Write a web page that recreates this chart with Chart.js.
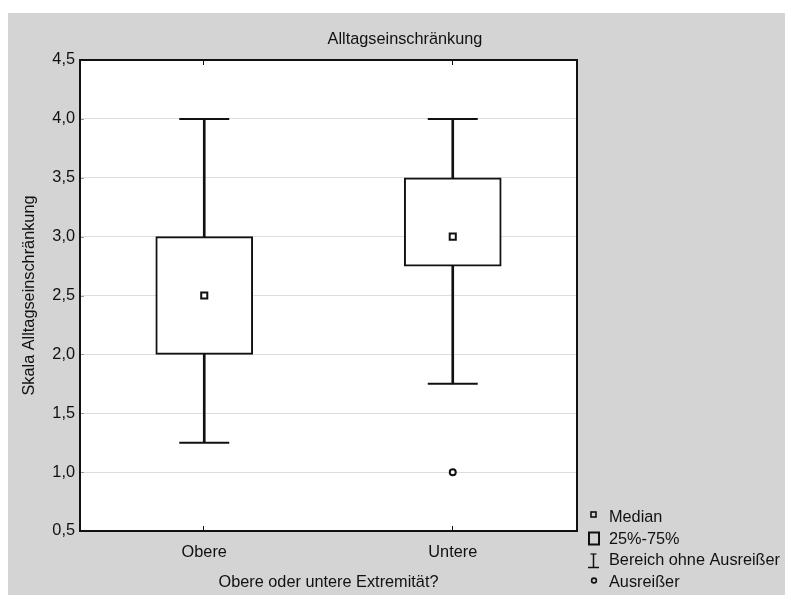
<!DOCTYPE html>
<html>
<head>
<meta charset="utf-8">
<script src="https://cdn.jsdelivr.net/npm/chart.js@4.4.0/dist/chart.umd.min.js"></script>
<style>
  html, body { margin: 0; padding: 0; background: #ffffff; }
  #wrap { width: 785px; height: 595px; }
</style>
</head>
<body>
<div id="wrap"><canvas id="chart" width="785" height="595"></canvas></div>
<script>
// Box plot summary per limb group
const categories   = ['Obere', 'Untere'];
const whiskerLow   = [1.25, 1.75];
const quartile1    = [2.0, 2.75];
const medians      = [2.5, 3.0];
const quartile3    = [3.0, 3.5];
const whiskerHigh  = [4.0, 4.0];
const outlierGroup = ['Untere'];
const outlierValue = [1.0];
const yTickValues  = [0.5, 1.0, 1.5, 2.0, 2.5, 3.0, 3.5, 4.0, 4.5];

const chartTitle  = 'Alltagseinschränkung';
const xAxisTitle  = 'Obere oder untere Extremität?';
const yAxisTitle  = 'Skala Alltagseinschränkung';
const legendTexts = ['Median', '25%-75%', 'Bereich ohne Ausreißer', 'Ausreißer'];

const FONT = '"Liberation Sans", Arial, sans-serif';
const FS = 16.3;
const INK = '#111111';

const capPoints = [];
categories.forEach((c, i) => {
  capPoints.push({ x: c, y: whiskerHigh[i] });
  capPoints.push({ x: c, y: whiskerLow[i] });
});

// Background, plot frame, title and legend
const decor = {
  id: 'decor',
  beforeDraw(chart) {
    const { ctx, chartArea: a } = chart;
    ctx.save();
    ctx.fillStyle = '#d4d4d4';
    ctx.fillRect(8, 13, chart.width - 8, chart.height - 13);
    ctx.fillStyle = '#ffffff';
    ctx.fillRect(a.left, a.top, a.right - a.left, a.bottom - a.top);
    ctx.restore();
  },
  afterDatasetsDraw(chart) {
    const { ctx, chartArea: a, scales } = chart;
    ctx.save();
    // short marks along the value axis
    ctx.strokeStyle = '#9a9a9a';
    ctx.lineWidth = 1;
    yTickValues.forEach(v => {
      const y = Math.round(scales.y.getPixelForValue(v)) + 0.5;
      ctx.beginPath(); ctx.moveTo(a.left, y); ctx.lineTo(a.left + 4, y); ctx.stroke();
    });
    // inward category marks at top and bottom
    ctx.strokeStyle = INK;
    categories.forEach((c, i) => {
      const x = Math.round(scales.x.getPixelForValue(i)) - 0.5;
      ctx.beginPath(); ctx.moveTo(x, a.top); ctx.lineTo(x, a.top + 5); ctx.stroke();
      ctx.beginPath(); ctx.moveTo(x, a.bottom); ctx.lineTo(x, a.bottom - 5); ctx.stroke();
    });
    // frame
    ctx.lineWidth = 2;
    ctx.strokeStyle = INK;
    ctx.strokeRect(a.left, a.top, a.right - a.left, a.bottom - a.top);
    ctx.restore();
  },
  afterDraw(chart) {
    const { ctx } = chart;
    ctx.save();
    ctx.fillStyle = INK;
    ctx.font = FS + 'px ' + FONT;
    ctx.textAlign = 'center';
    ctx.textBaseline = 'middle';
    ctx.fillText(chartTitle, 405, 40);

    // legend
    const lx = 609, rows = [518, 539.5, 561, 583];
    ctx.textAlign = 'left';
    legendTexts.forEach((t, i) => ctx.fillText(t, lx, rows[i]));
    ctx.strokeStyle = INK;
    // median symbol
    ctx.lineWidth = 1.6;
    ctx.strokeRect(591, 512, 5, 5);
    // box symbol
    ctx.lineWidth = 2;
    ctx.strokeRect(589, 532.5, 10, 12);
    // whisker symbol
    ctx.beginPath();
    ctx.moveTo(593.5, 554); ctx.lineTo(593.5, 567.5);
    ctx.moveTo(588, 567.5); ctx.lineTo(599, 567.5);
    ctx.lineWidth = 1.5; ctx.stroke();
    ctx.beginPath(); ctx.moveTo(590.5, 554); ctx.lineTo(596.5, 554);
    ctx.lineWidth = 1.2; ctx.stroke();
    // outlier symbol
    ctx.lineWidth = 1.6;
    ctx.beginPath(); ctx.arc(594, 580.5, 2.4, 0, Math.PI * 2); ctx.stroke();
    ctx.restore();
  }
};

new Chart(document.getElementById('chart'), {
  type: 'bar',
  data: {
    labels: categories,
    datasets: [
      {
        type: 'line', label: 'Median', showLine: false,
        data: categories.map((c, i) => ({ x: c, y: medians[i] })),
        pointStyle: 'rect', pointRadius: 4.3, pointBackgroundColor: '#ffffff',
        pointBorderColor: INK, pointBorderWidth: 2
      },
      {
        type: 'line', label: 'Ausreißer', showLine: false,
        data: outlierGroup.map((c, i) => ({ x: c, y: outlierValue[i] })),
        pointStyle: 'circle', pointRadius: 3, pointBackgroundColor: '#ffffff',
        pointBorderColor: INK, pointBorderWidth: 2
      },
      {
        type: 'line', label: 'Whisker caps', showLine: false,
        data: capPoints,
        pointStyle: 'line', pointRadius: 25, pointBorderColor: INK, pointBorderWidth: 2
      },
      {
        label: '25%-75%', grouped: false,
        data: categories.map((c, i) => [quartile1[i], quartile3[i]]),
        backgroundColor: '#ffffff', borderColor: INK, borderWidth: 2,
        borderSkipped: false, barThickness: 97
      },
      {
        label: 'upper whisker', grouped: false,
        data: categories.map((c, i) => [quartile3[i], whiskerHigh[i]]),
        backgroundColor: INK, borderWidth: 0, barThickness: 2
      },
      {
        label: 'lower whisker', grouped: false,
        data: categories.map((c, i) => [whiskerLow[i], quartile1[i]]),
        backgroundColor: INK, borderWidth: 0, barThickness: 2
      }
    ]
  },
  options: {
    responsive: false,
    animation: false,
    devicePixelRatio: 1,
    layout: { padding: { top: 60, right: 208, bottom: 0, left: 0 } },
    plugins: { legend: { display: false }, title: { display: false }, tooltip: { enabled: false } },
    scales: {
      x: {
        type: 'category',
        offset: true,
        grid: { display: false, drawTicks: false },
        border: { display: false },
        ticks: { color: INK, font: { family: FONT, size: FS }, padding: 11.5 },
        title: { display: true, text: xAxisTitle, color: INK, font: { family: FONT, size: FS },
                 padding: { top: 0, bottom: 3 } },
        afterFit(scale) { scale.height = 64; }
      },
      y: {
        min: 0.5, max: 4.5,
        afterBuildTicks(scale) { scale.ticks = yTickValues.map(v => ({ value: v })); },
        grid: { color: '#dedede', lineWidth: 1, drawTicks: false },
        border: { display: false },
        ticks: {
          color: INK, font: { family: FONT, size: FS }, padding: 5,
          callback: v => Number(v).toFixed(1).replace('.', ',')
        },
        title: { display: true, text: yAxisTitle, color: INK, font: { family: FONT, size: FS },
                 padding: { top: 20, bottom: 0 } },
        afterFit(scale) { scale.width = 80; }
      }
    }
  },
  plugins: [decor]
});
</script>
</body>
</html>
